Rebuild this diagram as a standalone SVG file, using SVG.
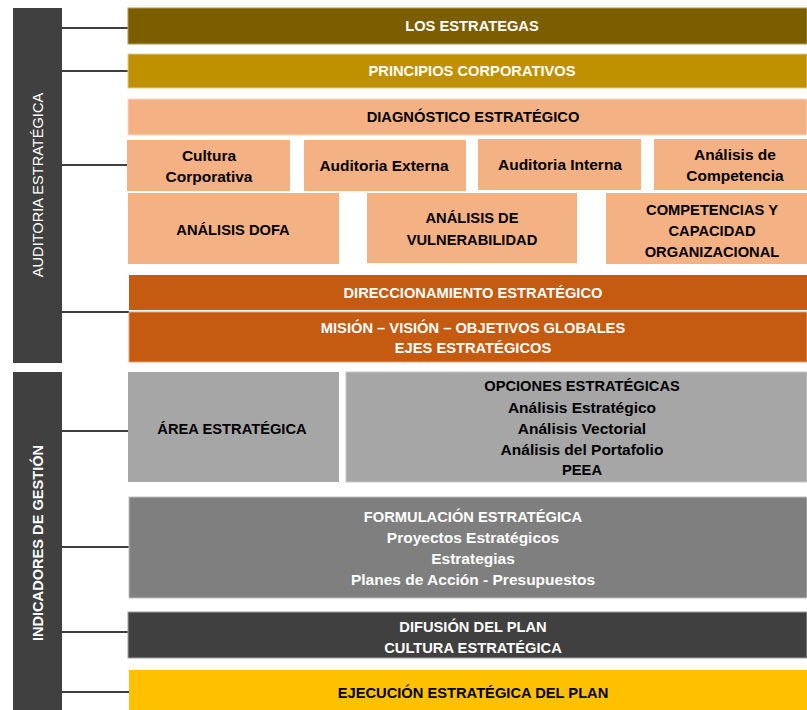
<svg xmlns="http://www.w3.org/2000/svg" width="807" height="710" viewBox="0 0 807 710">
<style>
.t{font-family:"Liberation Sans",Arial,sans-serif;font-weight:bold;text-anchor:middle;font-size:14.7px}
.m{font-size:15.5px}
.w{fill:#fff}
.k{fill:#000}
.side{font-family:"Liberation Sans",Arial,sans-serif;fill:#fff;font-size:14.6px;text-anchor:middle}
.ln{stroke:#000;stroke-width:1.3;fill:none}
.b{stroke-width:1}
</style>
<rect width="807" height="710" fill="#fff"/>
<g id="side-auditoria">
<rect x="13" y="8" width="49" height="355" fill="#404040"/>
<text class="side" transform="translate(43,185) rotate(-90)">AUDITORIA ESTRATÉGICA</text>
</g>
<g id="side-indicadores">
<rect x="13" y="372" width="49" height="338" fill="#404040"/>
<text class="side" font-weight="bold" font-size="14.2px" transform="translate(43,543) rotate(-90)">INDICADORES DE GESTIÓN</text>
</g>
<g id="connectors">
<path class="ln" d="M62 28H128M62 71H128M62 165H128M62 312H129M62 431H128M62 547H129M62 632H128M62 692H129"/>
</g>
<g id="estrategas">
<rect x="128" y="8" width="679" height="36" fill="#7B5E00" stroke="#B39B55" class="b"/>
<text class="t w" x="472" y="31">LOS ESTRATEGAS</text>
</g>
<g id="principios">
<rect x="128" y="54" width="679" height="34" fill="#BF9000" stroke="#E0CC88" class="b"/>
<text class="t w" x="472" y="76">PRINCIPIOS CORPORATIVOS</text>
</g>
<g id="diagnostico">
<rect x="128" y="99" width="679" height="36" fill="#F4B183" stroke="#F9D8C1" class="b"/>
<text class="t k" x="473" y="122">DIAGNÓSTICO ESTRATÉGICO</text>
</g>
<g id="cultura">
<rect x="127" y="140" width="163" height="51" fill="#F4B183"/>
<text class="t m k" x="209" y="161">Cultura</text>
<text class="t m k" x="209" y="182">Corporativa</text>
</g>
<g id="aud-externa">
<rect x="304" y="140" width="162" height="51" fill="#F4B183"/>
<text class="t m k" x="384" y="171">Auditoria Externa</text>
</g>
<g id="aud-interna">
<rect x="478" y="139" width="163" height="51" fill="#F4B183"/>
<text class="t m k" x="560" y="170">Auditoria Interna</text>
</g>
<g id="competencia">
<rect x="654" y="139" width="153" height="51" fill="#F4B183"/>
<text class="t m k" x="735" y="160">Análisis de</text>
<text class="t m k" x="735" y="181">Competencia</text>
</g>
<g id="dofa">
<rect x="128" y="193" width="211" height="71" fill="#F4B183"/>
<text class="t k" x="233" y="235">ANÁLISIS DOFA</text>
</g>
<g id="vulnerabilidad">
<rect x="367" y="193" width="210" height="70" fill="#F4B183"/>
<text class="t k" x="472" y="223">ANÁLISIS DE</text>
<text class="t k" x="472" y="245">VULNERABILIDAD</text>
</g>
<g id="competencias">
<rect x="606" y="193" width="201" height="71" fill="#F4B183"/>
<text class="t k" x="712" y="215">COMPETENCIAS Y</text>
<text class="t k" x="712" y="236">CAPACIDAD</text>
<text class="t k" x="712" y="257">ORGANIZACIONAL</text>
</g>
<g id="direccionamiento">
<rect x="129" y="275" width="678" height="35" fill="#C55A11"/>
<text class="t w" x="473" y="298">DIRECCIONAMIENTO ESTRATÉGICO</text>
</g>
<g id="mision">
<rect x="129" y="312" width="678" height="50" fill="#C55A11" stroke="#E0A077" class="b"/>
<text class="t w" x="473" y="333">MISIÓN – VISIÓN – OBJETIVOS GLOBALES</text>
<text class="t w" x="473" y="353">EJES ESTRATÉGICOS</text>
</g>
<g id="area">
<rect x="128" y="372" width="211" height="110" fill="#A6A6A6"/>
<text class="t k" x="232" y="434">ÁREA ESTRATÉGICA</text>
</g>
<g id="opciones">
<rect x="346" y="372" width="461" height="110" fill="#A6A6A6" stroke="#C8C8C8" class="b"/>
<text class="t k" x="582" y="391">OPCIONES ESTRATÉGICAS</text>
<text class="t m k" x="582" y="413">Análisis Estratégico</text>
<text class="t m k" x="582" y="434">Análisis Vectorial</text>
<text class="t m k" x="582" y="455">Análisis del Portafolio</text>
<text class="t k" x="582" y="475">PEEA</text>
</g>
<g id="formulacion">
<rect x="129" y="497" width="678" height="101" fill="#7F7F7F" stroke="#BFBFBF" class="b"/>
<text class="t w" x="473" y="522">FORMULACIÓN ESTRATÉGICA</text>
<text class="t m w" x="473" y="543">Proyectos Estratégicos</text>
<text class="t m w" x="473" y="564">Estrategias</text>
<text class="t m w" x="473" y="585">Planes de Acción - Presupuestos</text>
</g>
<g id="difusion">
<rect x="128" y="612" width="679" height="46" fill="#404040" stroke="#A0A0A0" class="b"/>
<text class="t w" x="473" y="632">DIFUSIÓN DEL PLAN</text>
<text class="t w" x="473" y="653">CULTURA ESTRATÉGICA</text>
</g>
<g id="ejecucion">
<rect x="129" y="670" width="678" height="40" fill="#FFC000"/>
<text class="t k" x="473" y="698">EJECUCIÓN ESTRATÉGICA DEL PLAN</text>
</g>
</svg>
